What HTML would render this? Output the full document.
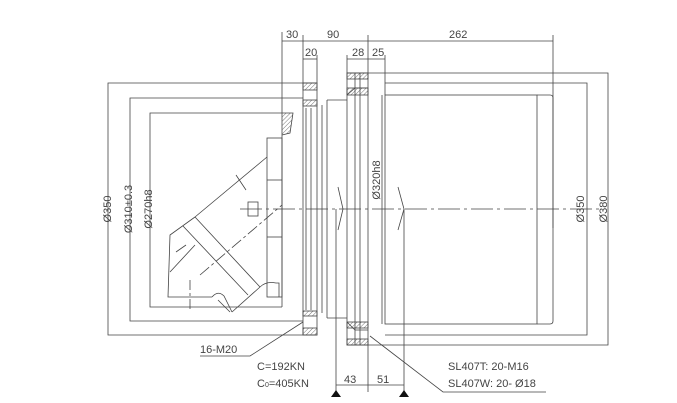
<!DOCTYPE html>
<html><head><meta charset="utf-8"><style>
html,body{margin:0;padding:0;background:#fff;}
svg{display:block;}
text{font-family:"Liberation Sans Narrow","Liberation Sans",sans-serif;fill:#444;font-size:11px;}
</style></head><body>
<svg width="677" height="403" viewBox="0 0 677 403" xmlns="http://www.w3.org/2000/svg">
<defs>
<pattern id="h" width="3" height="3" patternUnits="userSpaceOnUse" patternTransform="rotate(45)"><line x1="0" y1="0" x2="0" y2="3" stroke="#555" stroke-width="0.8"/></pattern>
</defs>
<g stroke="#444" stroke-width="0.8" fill="none">
<!-- top dims -->
<line x1="282" y1="41" x2="553" y2="41"/>
<line x1="282" y1="32" x2="282" y2="113"/>
<line x1="303" y1="35" x2="303" y2="83"/>
<line x1="368" y1="35" x2="368" y2="73"/>
<line x1="553" y1="35" x2="553" y2="228"/>
<line x1="303" y1="59" x2="317" y2="59"/>
<line x1="317" y1="55" x2="317" y2="83"/>
<line x1="347" y1="59" x2="385" y2="59"/>
<line x1="347" y1="55" x2="347" y2="73"/>
<line x1="385" y1="55" x2="385" y2="95"/>
<!-- left dimension frames -->
<polyline points="303,83 108,83 108,335 303,335"/>
<polyline points="303,98 130,98 130,321 303,321"/>
<polyline points="282,113 150,113 150,307 282,307"/>
<!-- right frames -->
<polyline points="368,73 608,73 608,345 368,345"/>
<polyline points="385,83 587,83 587,335 385,335"/>
<!-- main body -->
<rect x="385" y="95" width="152" height="229"/>
<path d="M537 95 H550 Q553 95 553 98 V321 Q553 324 550 324 H537"/>
<line x1="382" y1="95" x2="382" y2="324"/>
<!-- right bearing ring -->
<rect x="347" y="73" width="21" height="272"/>
<line x1="355" y1="73" x2="355" y2="345"/>
<line x1="360" y1="73" x2="360" y2="345"/>
<path d="M347 95 L355 88 H368"/>
<path d="M347 322 L355 330 H368"/>
<rect x="347" y="73" width="21" height="6" fill="url(#h)"/>
<rect x="347" y="88" width="21" height="7" fill="url(#h)"/>
<rect x="347" y="322" width="21" height="6" fill="url(#h)"/>
<rect x="347" y="339" width="21" height="6" fill="url(#h)"/>
<!-- middle ring sections -->
<line x1="327" y1="100" x2="327" y2="318"/>
<line x1="327" y1="100" x2="347" y2="100"/>
<line x1="327" y1="318" x2="347" y2="318"/>
<line x1="322" y1="105" x2="322" y2="313"/>
<!-- left bearing ring -->
<rect x="303" y="83" width="14" height="252"/>
<line x1="306" y1="108" x2="306" y2="310"/>
<line x1="311" y1="108" x2="311" y2="310"/>
<rect x="303" y="83" width="14" height="7" fill="url(#h)"/>
<rect x="303" y="100" width="14" height="6" fill="url(#h)"/>
<rect x="303" y="311" width="14" height="5" fill="url(#h)"/>
<rect x="303" y="328" width="14" height="7" fill="url(#h)"/>
<!-- motor -->
<line x1="282" y1="113" x2="282" y2="307"/>
<rect x="267" y="138" width="15" height="159"/>
<line x1="267" y1="180" x2="282" y2="180"/>
<line x1="267" y1="237" x2="282" y2="237"/>
<path d="M282 113 L293 113 L290 133 L282 135" fill="url(#h)"/>
<line x1="195" y1="217" x2="267" y2="157"/>
<polyline points="195,217 170,235 168,297 212,297"/>
<path d="M212 297 Q218 290 224 296 L232 312"/>
<line x1="183" y1="226" x2="248" y2="295"/>
<line x1="195" y1="217" x2="260" y2="287"/>
<line x1="232" y1="312" x2="260" y2="287"/>
<path d="M260 287 Q266 281 276 283 L279 283 V297"/>
<line x1="170" y1="272" x2="195" y2="245"/>
<rect x="248" y="202" width="10" height="14"/>
<line x1="236" y1="175" x2="246" y2="190"/>
<line x1="176" y1="252" x2="186" y2="245"/>
<line x1="218" y1="300" x2="230" y2="312"/>
<!-- centerlines -->
<line x1="240" y1="209" x2="600" y2="209" stroke-dasharray="22,4,3,4"/>
<line x1="200" y1="275" x2="282" y2="205" stroke-dasharray="12,3,3,3"/>
<line x1="190" y1="280" x2="190" y2="312" stroke-dasharray="10,3,3,3"/>
<!-- chevrons -->
<polyline points="338,187 343,209 338,230"/>
<polyline points="398,187 404,209 398,230"/>
<!-- bottom dims -->
<line x1="336" y1="209" x2="336" y2="392"/>
<line x1="404" y1="209" x2="404" y2="392"/>
<line x1="368" y1="345" x2="368" y2="392"/>
<line x1="336" y1="385" x2="404" y2="385"/>
<!-- leaders -->
<polyline points="200,356 250,356 303,322"/>
<polyline points="370,336 443,392 546,392"/>
</g>
<g fill="#111">
<polygon points="336,390 331,397 341,397"/>
<polygon points="404,390 399,397 409,397"/>
</g>
<g>
<text x="286" y="38">30</text>
<text x="327" y="38">90</text>
<text x="449" y="38">262</text>
<text x="305" y="56">20</text>
<text x="352" y="56">28</text>
<text x="372" y="56">25</text>
<text x="200" y="353">16-M20</text>
<text x="257" y="370">C=192KN</text>
<text x="257" y="387">C<tspan font-size="7">0</tspan>=405KN</text>
<text x="344" y="383">43</text>
<text x="377" y="383">51</text>
<text x="448" y="370">SL407T: 20-M16</text>
<text x="448" y="387">SL407W: 20- Ø18</text>
<text transform="translate(111,209) rotate(-90)" text-anchor="middle">Ø350</text>
<text transform="translate(132,209) rotate(-90)" text-anchor="middle">Ø310±0.3</text>
<text transform="translate(152,209) rotate(-90)" text-anchor="middle">Ø270h8</text>
<text transform="translate(380,180) rotate(-90)" text-anchor="middle">Ø320h8</text>
<text transform="translate(584,209) rotate(-90)" text-anchor="middle">Ø350</text>
<text transform="translate(607,209) rotate(-90)" text-anchor="middle">Ø380</text>
</g>
</svg>
</body></html>
